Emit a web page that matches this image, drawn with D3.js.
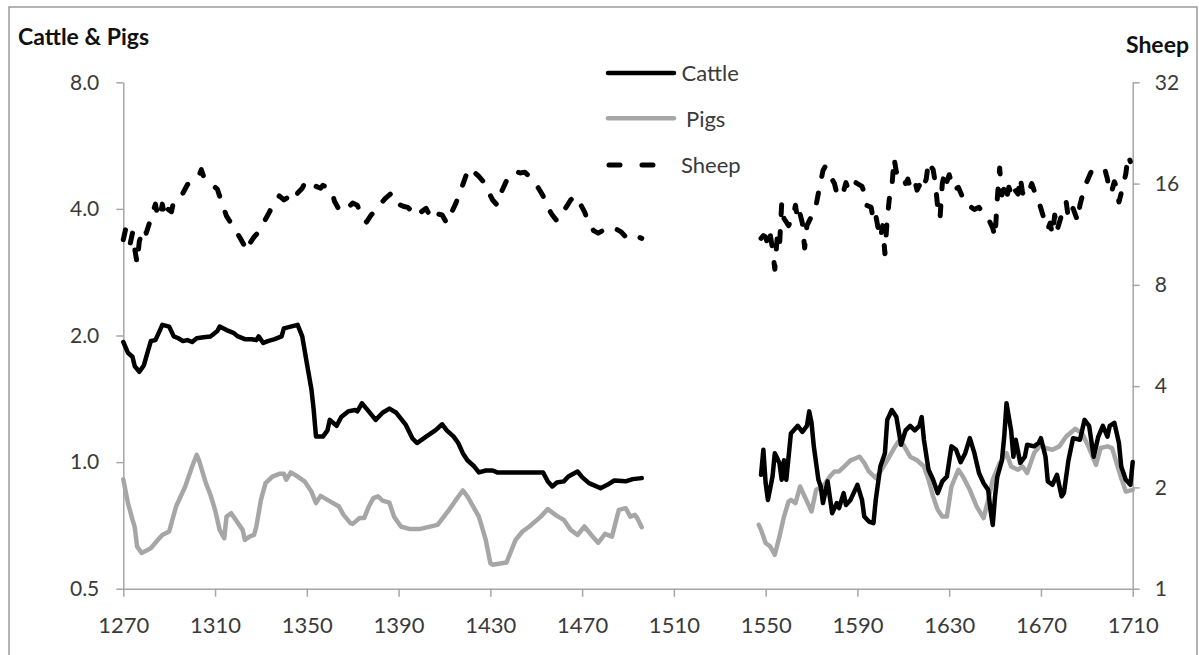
<!DOCTYPE html>
<html>
<head>
<meta charset="utf-8">
<script src="https://cdn.jsdelivr.net/npm/d3@7"></script>
<style>
  html, body { margin: 0; padding: 0; background: #fff; }
  svg { display: block; }
  text { font-family: Lato, "Open Sans", sans-serif; }
</style>
</head>
<body>
<svg id="chart" width="1199" height="655"></svg>
<script>
// ---------------- DATA ----------------
const xTickValues = [1270, 1310, 1350, 1390, 1430, 1470, 1510, 1550, 1590, 1630, 1670, 1710];
const leftTickValues = [0.5, 1.0, 2.0, 4.0, 8.0];
const rightTickValues = [1, 2, 4, 8, 16, 32];
const seriesNames = ["Cattle", "Pigs", "Sheep"];

// Cattle (left axis), 1270-1496
const cattleEarlyYears = [1270,1272,1274,1275,1277,1279,1280,1282,1284,1286,1287,1290,1292,1294,1296,1298,1300,1302,1305,1308,1311,1312,1315,1318,1320,1323,1326,1328,1329,1331,1333,1336,1339,1340,1343,1346,1348,1350,1352,1353,1354,1357,1359,1360,1363,1365,1368,1371,1372,1374,1377,1380,1383,1386,1389,1393,1396,1398,1402,1406,1409,1411,1414,1416,1418,1420,1423,1425,1428,1431,1433,1453,1455,1457,1459,1462,1464,1468,1470,1473,1478,1481,1484,1489,1492,1496];
const cattleEarlyValues = [1.93,1.82,1.78,1.69,1.64,1.70,1.78,1.94,1.95,2.06,2.12,2.10,1.99,1.97,1.94,1.95,1.93,1.97,1.98,1.99,2.05,2.10,2.06,2.03,1.99,1.96,1.96,1.95,1.99,1.92,1.94,1.96,1.99,2.08,2.10,2.12,1.99,1.72,1.49,1.33,1.15,1.15,1.19,1.26,1.22,1.28,1.32,1.33,1.32,1.38,1.32,1.26,1.31,1.34,1.31,1.23,1.14,1.11,1.15,1.19,1.23,1.19,1.15,1.11,1.05,1.01,0.976,0.945,0.955,0.955,0.945,0.945,0.90,0.875,0.894,0.90,0.924,0.95,0.921,0.891,0.867,0.883,0.904,0.90,0.911,0.916];

// Cattle (left axis), 1548-1710
const cattleLateYears = [1548,1549,1550,1551,1553,1554,1556,1557,1558,1559,1560,1561,1564,1566,1568,1569,1570,1571,1573,1574,1575,1577,1579,1581,1582,1584,1585,1587,1590,1592,1593,1595,1597,1598,1600,1602,1603,1605,1607,1609,1611,1613,1615,1617,1618,1619,1621,1623,1625,1627,1629,1631,1633,1635,1637,1639,1641,1643,1645,1647,1648,1649,1650,1651,1653,1654,1655,1657,1658,1659,1661,1663,1664,1667,1669,1670,1672,1673,1675,1677,1679,1680,1682,1684,1687,1689,1691,1693,1695,1697,1699,1700,1702,1704,1705,1707,1709,1710];
const cattleLateValues = [0.933,1.07,0.891,0.813,0.924,1.05,0.995,0.908,1.01,0.908,1.03,1.17,1.22,1.18,1.22,1.32,1.24,1.09,0.908,0.875,0.799,0.90,0.756,0.799,0.777,0.844,0.791,0.813,0.883,0.813,0.742,0.722,0.716,0.813,0.976,1.05,1.26,1.33,1.28,1.10,1.19,1.22,1.19,1.22,1.28,1.13,0.959,0.908,0.844,0.90,0.924,1.09,1.07,1.00,1.05,1.14,1.05,0.942,0.891,0.859,0.77,0.709,0.829,0.924,1.01,1.15,1.38,1.19,1.03,1.13,0.995,1.03,1.10,1.09,1.11,1.14,1.03,0.90,0.883,0.933,0.829,0.844,1.01,1.14,1.13,1.26,1.22,1.03,1.15,1.22,1.15,1.22,1.24,1.11,0.976,0.908,0.883,1.0];

// Pigs (left axis), 1270-1496
const pigsEarlyYears = [1270,1272,1274,1275,1276,1278,1282,1285,1287,1290,1293,1297,1300,1302,1303,1306,1308,1310,1312,1314,1315,1317,1319,1322,1323,1325,1327,1328,1330,1332,1335,1338,1340,1341,1343,1346,1349,1352,1354,1356,1359,1364,1366,1369,1370,1373,1375,1377,1379,1381,1383,1386,1388,1391,1395,1399,1407,1412,1415,1418,1420,1425,1428,1430,1431,1437,1441,1444,1447,1452,1455,1459,1462,1465,1468,1471,1474,1477,1480,1483,1486,1489,1491,1493,1494,1496];
const pigsEarlyValues = [0.91,0.80,0.73,0.70,0.63,0.608,0.624,0.653,0.671,0.684,0.784,0.875,0.976,1.04,1.01,0.891,0.836,0.77,0.69,0.659,0.742,0.756,0.729,0.69,0.653,0.665,0.671,0.703,0.813,0.891,0.924,0.938,0.938,0.908,0.945,0.924,0.90,0.851,0.799,0.831,0.813,0.784,0.749,0.716,0.713,0.736,0.736,0.784,0.821,0.829,0.81,0.801,0.742,0.703,0.693,0.693,0.709,0.77,0.813,0.856,0.829,0.742,0.653,0.575,0.57,0.577,0.653,0.684,0.703,0.742,0.773,0.745,0.729,0.69,0.671,0.703,0.671,0.643,0.675,0.665,0.77,0.777,0.742,0.749,0.736,0.70];

// Pigs (left axis), 1547-1710
const pigsLateYears = [1547,1548,1550,1552,1554,1556,1558,1560,1561,1563,1565,1567,1570,1572,1575,1578,1580,1582,1585,1587,1589,1591,1593,1595,1598,1600,1603,1606,1608,1610,1613,1616,1619,1621,1623,1625,1627,1629,1631,1634,1636,1639,1642,1645,1647,1649,1652,1655,1657,1660,1662,1664,1667,1670,1672,1675,1678,1681,1685,1688,1691,1694,1696,1699,1701,1703,1705,1707,1710];
const pigsLateValues = [0.709,0.69,0.642,0.63,0.602,0.665,0.742,0.806,0.813,0.799,0.875,0.829,0.763,0.859,0.875,0.924,0.95,0.95,0.985,1.01,1.02,1.03,0.995,0.95,0.916,0.95,1.01,1.08,1.12,1.10,1.03,1.01,0.976,0.908,0.829,0.77,0.742,0.742,0.875,0.959,0.924,0.859,0.784,0.736,0.813,0.908,0.995,1.05,0.976,0.959,0.976,0.942,1.05,1.10,1.08,1.07,1.09,1.15,1.20,1.17,1.08,0.985,1.08,1.09,1.08,0.995,0.916,0.851,0.859];

// Sheep (right axis), 1270-1496
const sheepEarlyYears = [1270,1271,1272,1273,1274,1275,1276,1277,1278,1279,1280,1282,1284,1285,1286,1287,1288,1289,1291,1292,1294,1296,1298,1300,1302,1303,1304,1305,1307,1309,1311,1313,1315,1317,1319,1321,1323,1324,1325,1327,1329,1331,1333,1335,1337,1338,1340,1342,1344,1346,1348,1349,1350,1352,1354,1356,1357,1359,1361,1362,1364,1366,1368,1370,1372,1374,1376,1378,1380,1382,1384,1386,1387,1389,1390,1392,1394,1396,1398,1400,1402,1403,1405,1407,1409,1411,1413,1415,1417,1419,1420,1421,1423,1425,1427,1429,1431,1433,1435,1437,1439,1441,1443,1445,1447,1449,1451,1453,1455,1457,1459,1461,1463,1465,1467,1469,1471,1473,1475,1477,1479,1481,1483,1485,1487,1489,1491,1493,1496];
const sheepEarlyValues = [10.9,11.7,11.5,10.6,11.4,10.2,9.3,10.8,11.3,11.8,11.4,12.6,13.9,12.8,12.7,13.9,12.8,13.5,13.2,14.2,14.6,15.0,15.9,16.2,16.6,16.9,17.6,16.8,16.3,15.8,15.4,14.0,12.8,12.2,11.6,11.0,10.4,10.1,10.6,11.1,11.5,12.2,12.9,13.7,14.3,14.7,14.3,14.6,14.2,15.0,15.5,16.0,15.6,15.9,15.7,15.5,15.8,15.6,15.2,14.2,13.4,13.2,13.6,14.0,13.8,12.8,12.3,12.9,13.3,13.9,14.4,14.8,15.0,14.3,13.9,13.7,13.6,13.2,12.8,13.2,13.5,13.1,13.6,13.0,12.9,12.2,13.1,14.0,15.2,16.6,17.4,17.8,17.3,16.8,16.2,15.2,14.3,13.8,15.2,16.3,16.9,17.4,17.2,17.3,16.8,16.2,15.5,14.7,13.6,12.9,12.4,13.0,13.6,14.3,14.7,14.0,13.2,12.2,11.6,11.4,11.6,11.8,11.9,11.7,11.5,11.1,11.3,11.2,11.0];

// Sheep (right axis), 1548-1710
const sheepLateYears = [1548,1549,1550,1551,1552,1553,1554,1555,1556,1557,1558,1560,1562,1563,1564,1565,1566,1567,1568,1570,1572,1573,1575,1576,1577,1578,1580,1581,1582,1584,1585,1586,1588,1590,1592,1593,1594,1596,1597,1598,1599,1600,1601,1602,1603,1604,1605,1606,1607,1608,1609,1611,1612,1613,1615,1616,1617,1618,1620,1621,1622,1623,1624,1625,1626,1627,1628,1629,1630,1632,1634,1636,1637,1639,1641,1643,1645,1647,1649,1650,1651,1652,1653,1654,1655,1656,1657,1658,1659,1660,1661,1662,1664,1666,1667,1669,1671,1673,1674,1675,1676,1677,1679,1681,1682,1684,1686,1687,1689,1691,1692,1694,1696,1698,1699,1700,1701,1702,1703,1704,1705,1707,1708,1709];
const sheepLateValues = [11.0,11.2,11.1,10.5,11.3,10.2,8.9,11.0,10.3,14.0,12.6,12.0,12.8,13.8,12.4,13.0,12.2,10.3,12.0,12.8,13.8,15.0,17.5,18.0,17.2,16.9,16.0,15.0,15.6,15.2,16.1,15.4,16.3,16.0,15.7,15.0,13.8,13.6,12.4,12.9,11.8,11.0,12.0,9.9,12.6,14.6,15.6,19.0,17.3,17.5,17.2,16.0,16.5,15.6,16.3,15.3,15.8,15.2,16.5,18.6,18.0,17.6,16.0,13.6,12.6,16.0,17.3,16.2,17.0,15.3,15.6,14.5,13.9,13.7,13.4,13.6,13.0,12.6,11.8,11.1,14.5,17.8,14.8,15.5,14.4,15.6,15.0,15.8,15.2,14.9,16.7,15.0,14.6,16.0,15.3,14.2,12.8,11.7,12.2,11.3,12.9,11.6,12.9,14.1,12.6,13.5,12.4,13.8,15.6,16.8,17.4,17.6,17.3,17.5,16.5,15.0,15.3,16.2,15.6,14.1,15.0,17.1,19.4,18.6];

// ---------------- CHART ----------------
const svg = d3.select("#chart");

const x = d3.scaleLinear().domain([1270, 1710]).range([123.3, 1132.7]);
const yL = d3.scaleLog().base(2).domain([0.5, 8]).range([588.7, 82.3]);
const yR = d3.scaleLog().base(2).domain([1, 32]).range([588.7, 82.3]);

const zip = (ys, vs) => ys.map((y, i) => ({ year: y, value: vs[i] }));

// outer frame
svg.append("rect")
  .attr("x", 9).attr("y", 7).attr("width", 1188).attr("height", 660)
  .attr("fill", "none").attr("stroke", "#8c8c8c").attr("stroke-width", 1.3);

const axisColor = "#a6a6a6";
const labelColor = "#3a3a3a";

function styleAxis(g, fs) {
  g.select(".domain").attr("stroke", axisColor).attr("stroke-width", 1.5);
  g.selectAll(".tick line").attr("stroke", axisColor).attr("stroke-width", 1.5);
  g.selectAll(".tick text").attr("fill", labelColor)
    .style("font-family", "Lato, 'Open Sans', sans-serif").style("font-size", fs + "px");
}

svg.append("g")
  .attr("transform", "translate(123.3,0)")
  .call(d3.axisLeft(yL).tickValues(leftTickValues).tickFormat(d3.format(".1f"))
    .tickSize(7).tickSizeOuter(0).tickPadding(17))
  .call(g => styleAxis(g, 21));

svg.append("g")
  .attr("transform", "translate(1132.7,0)")
  .call(d3.axisRight(yR).tickValues(rightTickValues).tickFormat(d3.format("d"))
    .tickSize(7).tickSizeOuter(0).tickPadding(15))
  .call(g => styleAxis(g, 21));

svg.append("g")
  .attr("transform", "translate(0,588.7)")
  .call(d3.axisBottom(x).tickValues(xTickValues).tickFormat(d3.format("d"))
    .tickSize(8).tickSizeOuter(0).tickPadding(21))
  .call(g => styleAxis(g, 22));

// axis titles
svg.append("text").attr("x", 18).attr("y", 45)
  .attr("font-weight", "bold").attr("font-size", 23).attr("fill", "#111")
  .text("Cattle & Pigs");
svg.append("text").attr("x", 1189).attr("y", 53).attr("text-anchor", "end")
  .attr("font-weight", "bold").attr("font-size", 23).attr("fill", "#111")
  .text("Sheep");

// lines
const lineL = d3.line().x(d => x(d.year)).y(d => yL(d.value));
const lineR = d3.line().x(d => x(d.year)).y(d => yR(d.value));

const pigColor = "#a6a6a6";

[zip(pigsEarlyYears, pigsEarlyValues), zip(pigsLateYears, pigsLateValues)].forEach(data => {
  svg.append("path").datum(data).attr("d", lineL)
    .attr("fill", "none").attr("stroke", pigColor).attr("stroke-width", 4.5)
    .attr("stroke-linejoin", "round").attr("stroke-linecap", "round");
});

[zip(cattleEarlyYears, cattleEarlyValues), zip(cattleLateYears, cattleLateValues)].forEach(data => {
  svg.append("path").datum(data).attr("d", lineL)
    .attr("fill", "none").attr("stroke", "#000").attr("stroke-width", 4.5)
    .attr("stroke-linejoin", "round").attr("stroke-linecap", "round");
});

[zip(sheepEarlyYears, sheepEarlyValues), zip(sheepLateYears, sheepLateValues)].forEach(data => {
  svg.append("path").datum(data).attr("d", lineR)
    .attr("fill", "none").attr("stroke", "#000").attr("stroke-width", 5)
    .attr("stroke-dasharray", "10,17")
    .attr("stroke-linejoin", "round").attr("stroke-linecap", "round");
});

// legend
const legend = svg.append("g");
const legendItems = [
  { name: seriesNames[0], y: 73, color: "#000", dash: null, tx: 681.5, ty: 81 },
  { name: seriesNames[1], y: 118.3, color: pigColor, dash: null, tx: 686, ty: 127 },
  { name: seriesNames[2], y: 165, color: "#000", dash: "11,22", tx: 681, ty: 172.5 }
];
legendItems.forEach(it => {
  legend.append("line")
    .attr("x1", it.dash ? 609 : 608).attr("x2", it.dash ? 658 : 674)
    .attr("y1", it.y).attr("y2", it.y)
    .attr("stroke", it.color).attr("stroke-width", it.dash ? 5 : 4.5)
    .attr("stroke-linecap", "round")
    .attr("stroke-dasharray", it.dash);
  legend.append("text").attr("x", it.tx).attr("y", it.ty)
    .attr("font-size", 22).attr("fill", labelColor).text(it.name);
});
</script>
</body>
</html>
